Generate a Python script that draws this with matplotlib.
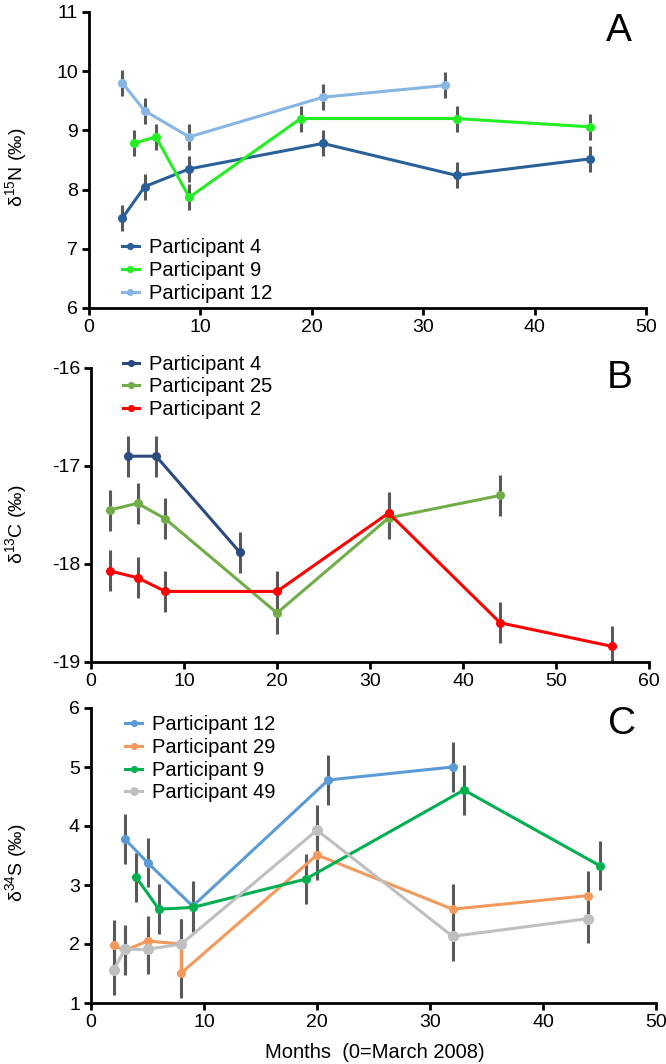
import numpy as np
import matplotlib.pyplot as plt

plt.rcParams['font.family'] = ['Liberation Sans', 'DejaVu Sans']
plt.rcParams['mathtext.fontset'] = 'custom'
plt.rcParams['mathtext.rm'] = 'Liberation Sans'
plt.rcParams['mathtext.it'] = 'Liberation Sans:italic'
plt.rcParams['axes.unicode_minus'] = False

# Panel A - delta 15N
a_p4_x = [3, 5, 9, 21, 33, 45]
a_p4_y = [7.52, 8.05, 8.35, 8.78, 8.24, 8.52]
a_p9_x = [4, 6, 9, 19, 33, 45]
a_p9_y = [8.78, 8.89, 7.87, 9.20, 9.20, 9.06]
a_p12_x = [3, 5, 9, 21, 32]
a_p12_y = [9.80, 9.33, 8.89, 9.56, 9.76]
a_err = 0.22

# Panel B - delta 13C
b_p4_x = [4, 7, 16]
b_p4_y = [-16.90, -16.90, -17.88]
b_p25_x = [2, 5, 8, 20, 32, 44]
b_p25_y = [-17.45, -17.38, -17.54, -18.50, -17.53, -17.30]
b_p2_x = [2, 5, 8, 20, 32, 44, 56]
b_p2_y = [-18.07, -18.14, -18.28, -18.28, -17.48, -18.60, -18.84]
b_err = 0.21

# Panel C - delta 34S
c_p12_x = [3, 5, 9, 21, 32]
c_p12_y = [3.78, 3.38, 2.64, 4.78, 5.00]
c_p29_x = [2, 3, 5, 8, 8, 20, 32, 44]
c_p29_y = [1.98, 1.89, 2.05, 2.00, 1.51, 3.51, 2.59, 2.82]
c_p9_x = [4, 6, 9, 19, 33, 45]
c_p9_y = [3.13, 2.59, 2.62, 3.10, 4.61, 3.33]
c_p49_x = [2, 3, 5, 8, 20, 32, 44]
c_p49_y = [1.56, 1.91, 1.91, 2.00, 3.93, 2.13, 2.43]
c_err = 0.42

W, H = 666, 1064
fig = plt.figure(figsize=(W / 100, H / 100), dpi=100)


def box(l, t, r, b):
    return [l / W, 1 - b / H, (r - l) / W, (b - t) / H]


ax_a = fig.add_axes(box(89, 12, 646, 308))
ax_b = fig.add_axes(box(91, 368, 649, 662))
ax_c = fig.add_axes(box(91, 708, 656, 1003))

errc = '#595959'


def series(ax, x, y, err, color, label, ms=5.5):
    ax.errorbar(x, y, yerr=err, fmt='none', ecolor=errc, elinewidth=2.2, capsize=0, zorder=2)
    ax.plot(x, y, color=color, lw=2.2, marker='o', ms=ms, label=label, zorder=3)


def style(ax):
    for s in ['top', 'right']:
        ax.spines[s].set_visible(False)
    for s in ['left', 'bottom']:
        ax.spines[s].set_linewidth(2)
    ax.tick_params(direction='out', length=5, width=2, labelsize=14, pad=3)


def legend(ax, x0, y0):
    ax.legend(loc='upper left', bbox_to_anchor=(x0, y0), frameon=False, fontsize=14.5,
              handlelength=0.8, handletextpad=0.5, labelspacing=0.18, borderpad=0,
              borderaxespad=0, markerscale=0.75)


def ylab(text, y):
    fig.text(16 / W, 1 - y / H, text, rotation=90, ha='center', va='center', fontsize=14)


def panel(letter, x, y):
    fig.text(x / W, 1 - y / H, letter, fontsize=28, ha='center', va='center')


series(ax_a, a_p4_x, a_p4_y, a_err, '#2a6099', 'Participant 4')
series(ax_a, a_p9_x, a_p9_y, a_err, '#22ee22', 'Participant 9')
series(ax_a, a_p12_x, a_p12_y, a_err, '#88b6e4', 'Participant 12')
ax_a.set_xlim(0, 50)
ax_a.set_ylim(6, 11)
ax_a.set_xticks(range(0, 51, 10))
ax_a.set_yticks(range(6, 12))
style(ax_a)
legend(ax_a, 0.06, 0.235)
ylab('δ$^{15}$N (‰)', 167)
panel('A', 619, 31)

series(ax_b, b_p4_x, b_p4_y, b_err, '#2b4a80', 'Participant 4')
series(ax_b, b_p25_x, b_p25_y, b_err, '#70ad47', 'Participant 25')
series(ax_b, b_p2_x, b_p2_y, b_err, '#ff0000', 'Participant 2')
ax_b.set_xlim(0, 60)
ax_b.set_ylim(-19, -16)
ax_b.set_xticks(range(0, 61, 10))
ax_b.set_yticks(range(-19, -15))
style(ax_b)
legend(ax_b, 0.057, 1.045)
ylab('δ$^{13}$C (‰)', 524)
panel('B', 620, 378)

series(ax_c, c_p12_x, c_p12_y, c_err, '#5b9bd5', 'Participant 12')
series(ax_c, c_p29_x, c_p29_y, c_err, '#f4995c', 'Participant 29')
series(ax_c, c_p9_x, c_p9_y, c_err, '#00b050', 'Participant 9')
series(ax_c, c_p49_x, c_p49_y, c_err, '#bfbfbf', 'Participant 49', ms=7)
ax_c.set_xlim(0, 50)
ax_c.set_ylim(1, 6)
ax_c.set_xticks(range(0, 51, 10))
ax_c.set_yticks(range(1, 7))
style(ax_c)
legend(ax_c, 0.061, 0.975)
ylab('δ$^{34}$S (‰)', 863)
panel('C', 622, 724)
fig.text(375 / W, 1 - 1052 / H, 'Months  (0=March 2008)', fontsize=14.5, ha='center', va='center')

fig.savefig('out.png', dpi=100)
